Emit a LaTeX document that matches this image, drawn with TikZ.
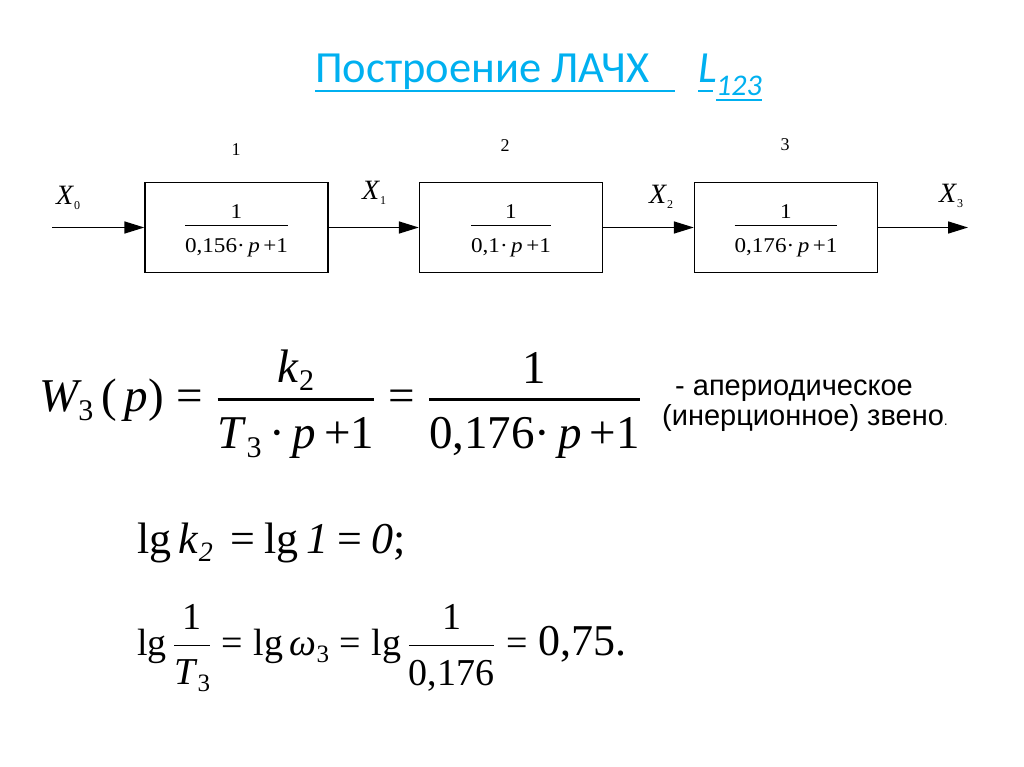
\documentclass[tikz,border=0pt]{standalone}
\usepackage{amsmath}
\usepackage{fontspec}
\DeclareFontShape{OMS}{cmsy}{m}{n}{<->cmsy10}{}
\DeclareFontShape{OML}{cmm}{m}{it}{<->cmmi10}{}
\DeclareFontShape{OMX}{cmex}{m}{n}{<->cmex10}{}
\setmainfont{Liberation Serif}
\setsansfont{Liberation Sans}
\newfontfamily\titlefont{Carlito}
\newfontfamily\dgfont[FakeStretch=1.1]{Liberation Serif}
\usetikzlibrary{arrows.meta}
\definecolor{titlecol}{RGB}{0,176,240}
\newcommand\fs[1]{\fontsize{#1}{#1}\selectfont}
\newcommand\Fr[3]{\genfrac{}{}{#1}{0}{#2}{#3}}
\newcommand\EQ{\mathrel{\text{=}}}
\newcommand\sh[2]{\raisebox{#1}[\height][\depth]{#2}}
\newcommand\xs[1]{\textit{X}\raisebox{-5pt}{\fs{12}#1}}
\tikzset{
  txt/.style={inner sep=0pt, anchor=base west},
  blockbox/.style={draw, line width=1.4pt, minimum width=183pt, minimum height=90pt, inner sep=0pt, font=\dgfont\fs{21}},
  sig/.style={line width=1.6pt, -{Triangle[length=20pt,width=12pt]}},
  uline/.style={titlecol, line width=2pt},
  ttl/.style={txt, text=titlecol}
}
\begin{document}
\begin{tikzpicture}[x=1pt,y=-1pt]
\useasboundingbox[fill=white] (0,0) rectangle (1024,767);
% title
\node[ttl, font=\titlefont\fs{44.5}] (title) at (315,83) {Построение ЛАЧХ};
\node[ttl, font=\titlefont\itshape\fs{44.5}] (L) at (698,83) {L};
\node[ttl, font=\titlefont\itshape\fs{30}] (Lsub) at (716,96) {123};
\draw[uline] ([yshift=-8pt]title.base west) -- ++(360,0);
\draw[uline] ([yshift=-8pt]L.base west) -- ++(15,0);
\draw[uline] ([yshift=-4pt]Lsub.base west) -- ++(46,0);
% block diagram
\node[blockbox] (b1) at (236.5,227.5) {$\Fr{1pt}{\sh{-2pt}{1}}{\sh{-7pt}{0,156·\,\textit{p}\,+1}}$};
\node[blockbox] (b2) at (511,227.5) {$\Fr{1pt}{\sh{-2pt}{1}}{\sh{-7pt}{0,1·\,\textit{p}\,+1}}$};
\node[blockbox] (b3) at (786,227.5) {$\Fr{1pt}{\sh{-2pt}{1}}{\sh{-7pt}{0,176·\,\textit{p}\,+1}}$};
\node[inner sep=0pt, anchor=base, font=\fs{18}] (n1) at (236,156) {1};
\node[inner sep=0pt, anchor=base, font=\fs{18}] (n2) at (505,152) {2};
\node[inner sep=0pt, anchor=base, font=\fs{18}] (n3) at (785,151) {3};
\coordinate (in) at (52,227.5);
\coordinate (out) at (968,227.5);
\draw[sig] (in) -- (b1.west);
\draw[sig] (b1.east) -- (b2.west);
\draw[sig] (b2.east) -- (b3.west);
\draw[sig] (b3.east) -- (out);
\node[txt, font=\fs{28}] (x0) at (56,205) {\xs{0}};
\node[txt, font=\fs{28}] (x1) at (362,200) {\xs{1}};
\node[txt, font=\fs{28}] (x2) at (649,204) {\xs{2}};
\node[txt, font=\fs{28}] (x3) at (939,203) {\xs{3}};
% main formula
\node[txt, font=\fs{47}] (w) at (39,411) {$\textit{W}\raisebox{-9pt}{\fs{30}3}\text{\,(\,\textit{p})} \EQ \Fr{2.6pt}{\sh{-7pt}{\textit{k}\raisebox{-8pt}{\fs{30}2}}}{\sh{-5pt}{\textit{T}\raisebox{-9pt}{\fs{30}3}\,·\,\textit{p}\,+1}} \EQ \Fr{2.6pt}{\sh{-4pt}{1}}{\sh{-5pt}{0,176·\,\textit{p}\,+1}}$};
\node[txt, font=\sffamily\fs{29}] (d1) at (675,395) {- апериодическое};
\node[txt, font=\sffamily\fs{29}] (d2) at (662,425) {(инерционное) звено{\fs{14}.}};
% lg lines
\node[txt, font=\fs{44}] (lg1) at (137,553) {lg\,\textit{k}\raisebox{-8pt}{\fs{28}\textit{2}}\hspace{18pt}=\hspace{9pt}lg\,\textit{1}\hspace{9pt}=\hspace{9pt}\textit{0};};
\node[txt, font=\fs{38}] (lg2) at (137,655) {$\text{lg}\,\Fr{1.8pt}{\text{1}}{\sh{-3pt}{\textit{T}\raisebox{-7pt}{\fs{25}3}}} \EQ \text{lg}\,\textit{ω}\raisebox{-7pt}{\fs{25}3} \EQ \text{lg}\,\Fr{1.8pt}{\text{1}}{\sh{-4pt}{0,176}} \EQ \text{\fs{44}0,75.}$};
\end{tikzpicture}
\end{document}
